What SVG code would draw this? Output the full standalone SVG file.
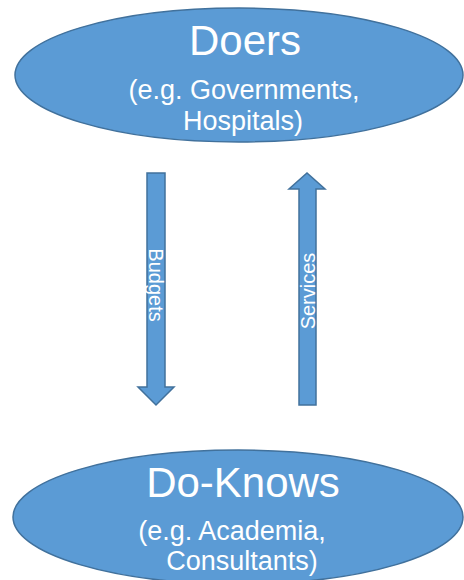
<svg xmlns="http://www.w3.org/2000/svg" width="464" height="580" viewBox="0 0 464 580">
<style>
.node{fill:#5B9BD5;stroke:#41719C;stroke-width:1.5}
.arrow{fill:#5B9BD5;stroke:#41719C;stroke-width:1.5;stroke-linejoin:miter}
text{font-family:"Liberation Sans",Arial,sans-serif;fill:#FFFFFF;text-anchor:middle}
.title{font-size:42px}
.sub{font-size:27px}
.lbl{font-size:20px}
</style>
<rect width="464" height="580" fill="#FFFFFF"/>
<g id="connectors">
<g id="budgets">
<polygon class="arrow" points="147,173 165,173 165,387 174,387 156,405 138,387 147,387"/>
<text class="lbl" transform="translate(156,285) rotate(90)" x="0" y="7">Budgets</text>
</g>
<g id="services">
<polygon class="arrow" points="299,405 316,405 316,189 325,189 307,173 289,189 299,189"/>
<text class="lbl" transform="translate(307,291) rotate(-90)" x="0" y="8">Services</text>
</g>
</g>
<g id="doers">
<ellipse class="node" cx="239" cy="75" rx="224" ry="67"/>
<text class="title" x="245" y="55">Doers</text>
<text class="sub" x="244" y="99">(e.g. Governments,</text>
<text class="sub" x="243" y="130">Hospitals)</text>
</g>
<g id="doknows">
<ellipse class="node" cx="238" cy="517" rx="225" ry="67"/>
<text class="title" x="243" y="497">Do-Knows</text>
<text class="sub" x="232" y="540">(e.g. Academia,</text>
<text class="sub" x="242" y="570">Consultants)</text>
</g>
</svg>
